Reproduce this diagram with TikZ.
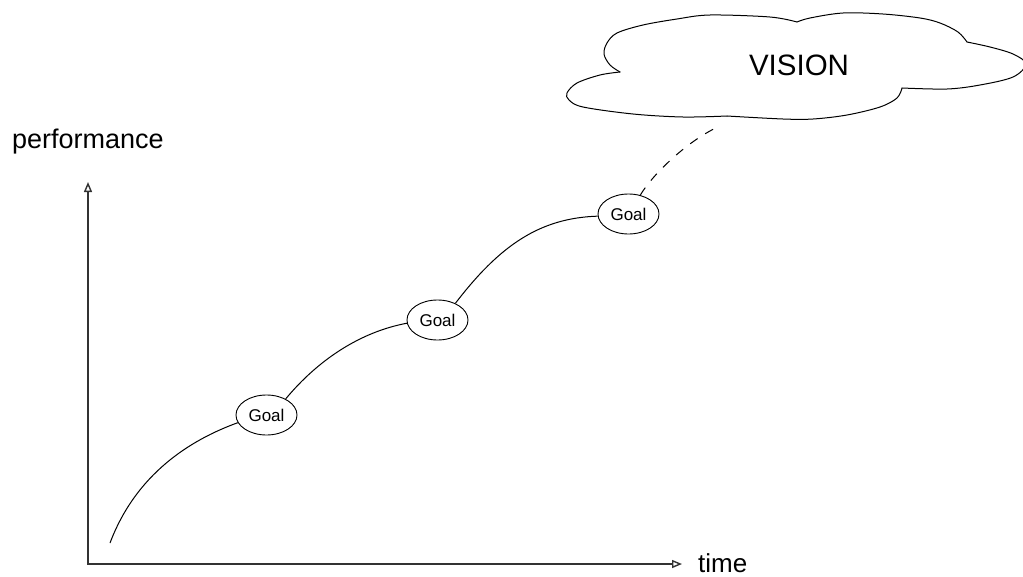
\documentclass[tikz,border=0pt]{standalone}
\usepackage{fontspec}
\setmainfont{Liberation Sans}
\usetikzlibrary{arrows.meta,shapes.geometric}

\tikzset{
  goal/.style={draw, ellipse, line width=0.9pt, minimum width=61pt, minimum height=40pt,
               inner sep=0pt, font=\fontsize{17}{19}\selectfont},
  axisline/.style={line width=1.4pt, draw=black!80},
  trend/.style={line width=1pt},
  cloudline/.style={line width=1pt, line join=round, line cap=round},
  label/.style={inner sep=0pt}
}

\begin{document}
\begin{tikzpicture}[x=1pt, y=-1pt]
  \useasboundingbox (0,0) rectangle (1023,576);

  % axes
  \coordinate (O) at (88,564);
  \coordinate (Y) at (88,182);
  \coordinate (X) at (682,564);
  \draw[axisline, {Triangle[open,length=10pt,width=8pt]}-{Triangle[open,length=10pt,width=8pt]}]
    (Y) -- (O) -- (X);
  \node[label, anchor=base west, font=\fontsize{27}{30}\selectfont] (perf) at (12,148) {performance};
  \node[label, anchor=base west, font=\fontsize{26}{30}\selectfont] (tlabel) at (698,572) {time};

  % goals along the way
  \node[goal] (g1) at (266.5,415) {Goal};
  \node[goal] (g2) at (437.5,320) {Goal};
  \node[goal] (g3) at (628.5,214) {Goal};

  % performance curve
  \coordinate (start) at (110,543);
  \draw[trend] (start) .. controls (136,474) and (190,440) .. (g1.195);
  \draw[trend] (g1.40) .. controls (318,360) and (360,332) .. (g2.186);
  \draw[trend] (g2.43) .. controls (500,245) and (540,218) .. (g3.184);

  % cloud outline, lobe by lobe
  \draw[cloudline] plot[smooth, tension=0.55] coordinates
    {(620,72) (600,75) (577,83) (567,93) (569,100) (583,107) (633,114) (683,117) (727,116)};
  \draw[cloudline] plot[smooth, tension=0.55] coordinates
    {(727,116) (783,119) (813,119) (847,115) (880,107) (897,98) (902,88)};
  \draw[cloudline] plot[smooth, tension=0.55] coordinates
    {(902,88) (947,89) (980,85) (1013,77) (1026,64) (1013,54) (990,47) (967,42)};
  \draw[cloudline] plot[smooth, tension=0.55] coordinates
    {(967,42) (958,32) (940,23) (920,18) (883,14) (843,13) (810,18) (797,22)};
  \draw[cloudline] plot[smooth, tension=0.55] coordinates
    {(797,22) (770,17) (710,15) (677,19) (643,25) (617,33) (607,43) (604,54) (610,65) (620,72)};
  \node[label, anchor=base, font=\fontsize{29.5}{32}\selectfont] (vision) at (799,75) {VISION};

  % dashed link from the last goal up to the vision
  \coordinate (cloudbase) at (720,126);
  \draw[line width=1pt, dash pattern=on 9pt off 9pt] (g3.58) .. controls (652,175) and (688,140) .. (cloudbase);
\end{tikzpicture}
\end{document}
